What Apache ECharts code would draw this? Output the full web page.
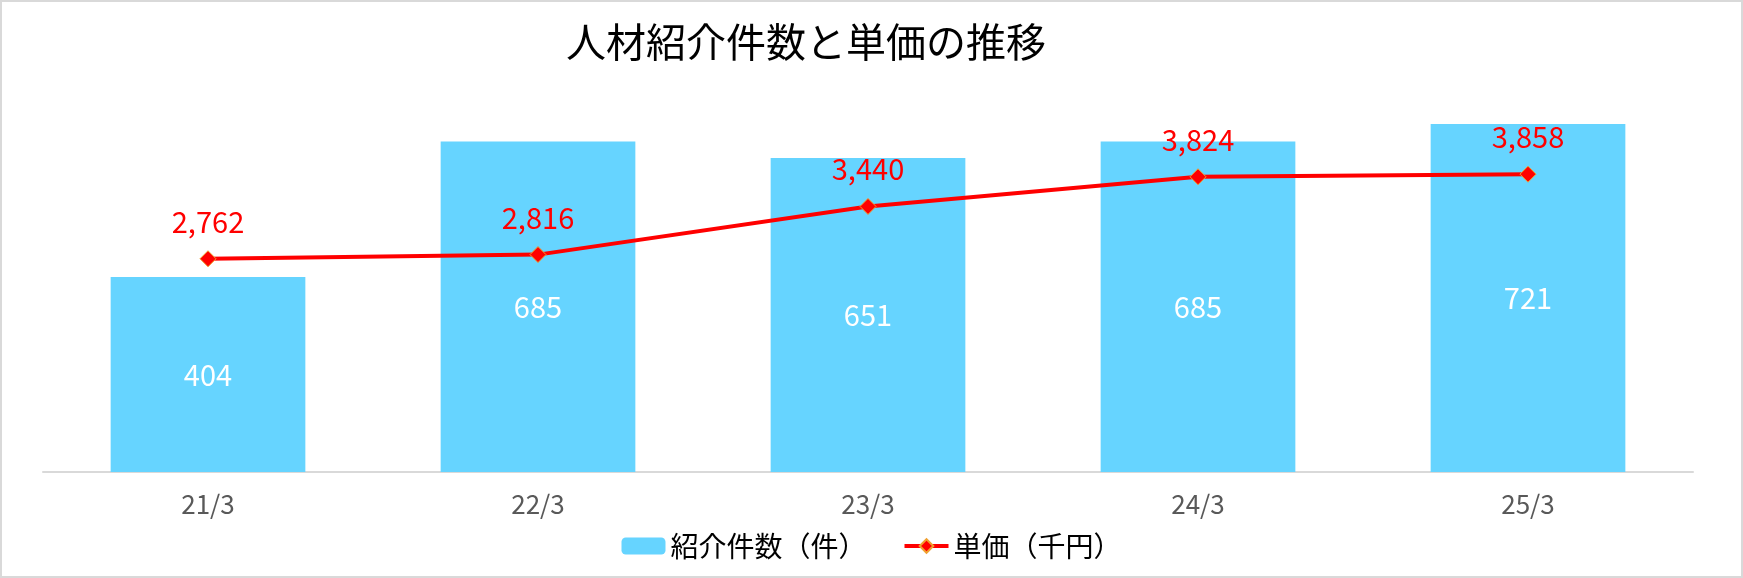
<!DOCTYPE html>
<html>
<head>
<meta charset="utf-8">
<script src="https://cdn.jsdelivr.net/npm/echarts@6/dist/echarts.min.js"></script>
<style>
html,body{margin:0;padding:0;background:#fff;}
#chart{width:1743px;height:578px;}
</style>
</head>
<body>
<div id="chart"></div>
<script>
const categories = ['21/3', '22/3', '23/3', '24/3', '25/3'];
const placements = [404, 685, 651, 685, 721];
const unitPrice = [2762, 2816, 3440, 3824, 3858];
const titleText = '人材紹介件数と単価の推移';
const seriesNames = ['紹介件数（件）', '単価（千円）'];

const numFont = '"Noto Sans CJK JP", "Liberation Sans", sans-serif';
const chart = echarts.init(document.getElementById('chart'));
chart.setOption({
  animation: false,
  backgroundColor: '#fff',
  graphic: [{
    type: 'rect', silent: true, z: 100,
    shape: { x: 0, y: 0, width: 1743, height: 578 },
    style: { fill: 'none', stroke: '#d9d9d9', lineWidth: 4 }
  }],
  title: {
    text: titleText,
    left: 566, top: 22, padding: 0,
    textStyle: { fontFamily: '"Noto Sans CJK JP", sans-serif', fontSize: 40, fontWeight: 'normal', color: '#000' }
  },
  legend: {
    data: seriesNames,
    left: 'center', top: 527,
    itemWidth: 44, itemHeight: 17, itemGap: 36,
    lineStyle: { width: 4 },
    textStyle: { fontFamily: '"Noto Sans CJK JP", sans-serif', fontSize: 28, color: '#000' }
  },
  grid: { left: 43, right: 50, top: 86, bottom: 106, containLabel: false },
  xAxis: {
    type: 'category', data: categories,
    axisLine: { lineStyle: { color: '#d9d9d9', width: 2 } },
    axisTick: { show: false },
    axisLabel: { fontFamily: numFont, fontSize: 26, color: '#595959', margin: 19 }
  },
  yAxis: [
    { type: 'value', min: 0, max: 800, show: false, splitLine: { show: false } },
    { type: 'value', min: 0, max: 5000, show: false, splitLine: { show: false } }
  ],
  series: [
    {
      name: seriesNames[0], type: 'bar', data: placements, yAxisIndex: 0,
      barCategoryGap: '41%',
      itemStyle: { color: '#66d4ff' },
      label: { show: true, position: 'inside', color: '#fff', fontFamily: numFont, fontSize: 29 }
    },
    {
      name: seriesNames[1], type: 'line', data: unitPrice, yAxisIndex: 1,
      lineStyle: { color: '#ff0000', width: 4 },
      symbol: 'diamond', symbolSize: 16,
      itemStyle: { color: '#ff0000', borderColor: '#f0a030', borderWidth: 1 },
      label: {
        show: true, position: 'top', distance: 14, color: '#ff0000',
        fontFamily: numFont, fontSize: 29,
        formatter: p => p.value.toLocaleString('en-US')
      },
      z: 5
    }
  ]
});
</script>
</body>
</html>
